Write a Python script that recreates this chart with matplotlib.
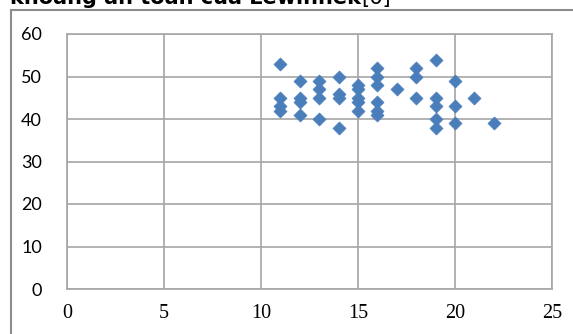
import numpy as np
import matplotlib.pyplot as plt
from matplotlib.patches import Rectangle

# data (x = years?, y = angle)
x_vals = [11, 11, 11, 11,
          12, 12, 12, 12,
          13, 13, 13, 13,
          14, 14, 14, 14,
          15, 15, 15, 15, 15,
          16, 16, 16, 16, 16, 16,
          17,
          18, 18, 18,
          19, 19, 19, 19, 19,
          20, 20, 20,
          21,
          22]
y_vals = [53, 45, 43, 42,
          49, 45, 44, 41,
          49, 47, 45, 40,
          50, 46, 45, 38,
          48, 47, 45, 44, 42,
          52, 50, 48, 44, 42, 41,
          47,
          52, 50, 45,
          54, 45, 43, 40, 38,
          49, 43, 39,
          45,
          39]
x_ticks = [0, 5, 10, 15, 20, 25]
y_ticks = [0, 10, 20, 30, 40, 50, 60]

W, H = 573, 334
fig = plt.figure(figsize=(W / 100, H / 100), dpi=100)

# outer chart frame (cut off at right and bottom)
fig.patches.append(Rectangle((11 / W, -0.1), 1.2, 1 - 10 / H + 0.1,
                             transform=fig.transFigure, fill=False,
                             edgecolor='#8c8c8c', linewidth=1.5))

# cut-off caption above the chart
fig.text(10 / W, 1 - 4 / H, 'khoảng an toàn của Lewinnek', fontsize=15,
         fontweight='bold', family='DejaVu Sans', va='baseline', ha='left')
fig.text(361 / W, 1 - 4 / H, '[6]', fontsize=15, family='DejaVu Sans',
         va='baseline', ha='left')

ax = fig.add_axes([67 / W, (H - 289) / H, (552 - 67) / W, (289 - 34) / H])
ax.scatter(x_vals, y_vals, marker='D', s=44, color='#4a7ebb',
           edgecolors='#4a7ebb', linewidths=0.5, zorder=3)

ax.set_xlim(0, 25)
ax.set_ylim(0, 60)
ax.set_xticks(x_ticks)
ax.set_yticks(y_ticks)
ax.grid(True, color='#a6a6a6', linewidth=1.2)
for s in ax.spines.values():
    s.set_color('#a6a6a6')
    s.set_linewidth(1.2)
ax.tick_params(length=0)
ax.tick_params(axis='x', pad=11)
ax.tick_params(axis='y', pad=18)
for lab in ax.get_xticklabels():
    lab.set_family('Liberation Serif')
    lab.set_fontsize(14.5)
for lab in ax.get_yticklabels():
    lab.set_family('Lato')
    lab.set_fontsize(13)

fig.savefig('out.png', dpi=100)
